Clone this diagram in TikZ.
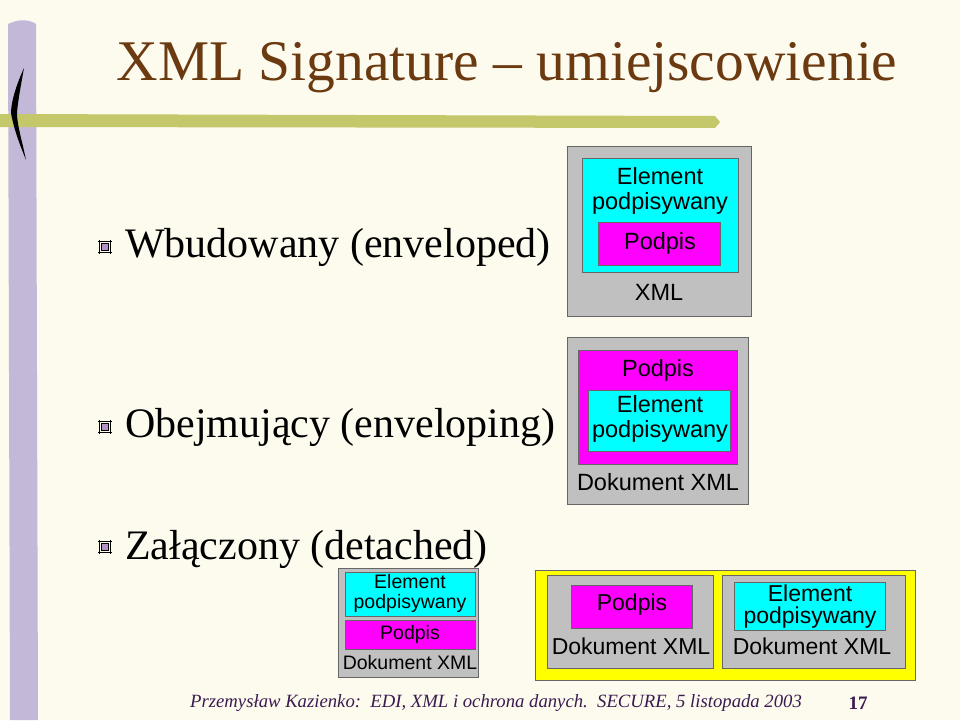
\documentclass[tikz,border=0pt]{standalone}
\usepackage{fontspec}
\setmainfont{Liberation Serif}
\setsansfont{Liberation Sans}
\usetikzlibrary{positioning}
\definecolor{bgcream}{HTML}{FDFBEE}
\definecolor{titlebrown}{HTML}{6B3A10}
\definecolor{barolive}{HTML}{C5C86A}
\definecolor{barlilac}{HTML}{C4B8D8}
\definecolor{boxgray}{HTML}{C0C0C0}
\definecolor{elemcyan}{HTML}{00FFFF}
\definecolor{sigmagenta}{HTML}{FF00FF}
\definecolor{wrapyellow}{HTML}{FFFF00}
\definecolor{footpurple}{HTML}{3A1A50}
\tikzset{
  docbox/.style={draw=black!60,fill=boxgray,line width=0.8pt},
  elembox/.style={draw=black!60,fill=elemcyan,line width=0.8pt},
  sigbox/.style={draw=black!60,fill=sigmagenta,line width=0.8pt},
  wrapbox/.style={draw=black!60,fill=wrapyellow,line width=0.8pt},
  boxtext/.style={font=\sffamily,align=center,inner sep=0pt},
  itemtext/.style={anchor=west,font=\fontsize{42}{44}\selectfont,inner sep=0pt},
  bulletmark/.style={draw=black,fill=barlilac!80!violet,minimum size=7pt,inner sep=0pt}
}
\newcommand{\itembullet}[2]{%
  \node[bulletmark] (#1) at #2 {};
  \draw[line width=1pt] ([xshift=-3pt,yshift=2pt]#1.north west) -- ([xshift=3pt,yshift=2pt]#1.north east);
  \draw[line width=1pt] ([xshift=-3pt,yshift=-2pt]#1.south west) -- ([xshift=3pt,yshift=-2pt]#1.south east);
  \draw[line width=1pt] ([xshift=2pt,yshift=3pt]#1.north east) -- ([xshift=2pt,yshift=-3pt]#1.south east);
  \draw[line width=1pt] ([xshift=-2pt,yshift=3pt]#1.north west) -- ([xshift=-2pt,yshift=-3pt]#1.south west);
}
\begin{document}
\begin{tikzpicture}[x=1pt,y=-1pt]
\fill[bgcream] (0,0) rectangle (960,720);
\useasboundingbox (0,0) rectangle (960,720);

%% decoration
\fill[barlilac] (8,24) .. controls (20,18) and (30,20) .. (36,24) -- (38,720) -- (10,720) -- cycle;
\fill[barolive] (0,114) -- (715,116) -- (720,122) -- (715,128) -- (0,127) -- cycle;
\fill[black] (24,68) .. controls (14,90) and (11,105) .. (11,113)
  .. controls (14,130) and (20,145) .. (26,160)
  .. controls (22,140) and (17,125) .. (17,113)
  .. controls (18,100) and (21,85) .. (24,68) -- cycle;

%% title
\node[font=\fontsize{57.5}{60}\selectfont,text=titlebrown,inner sep=0pt] (title) at (507,68) {XML Signature -- umiejscowienie};

%% items
\itembullet{b1}{(105,247)}
\node[itemtext] (t1) at (125,247) {Wbudowany (enveloped)};
\itembullet{b2}{(105,427)}
\node[itemtext] (t2) at (125,427) {Obejmujący (enveloping)};
\itembullet{b3}{(105,547)}
\node[itemtext] (t3) at (125,549) {Załączony (detached)};

%% enveloped
\draw[docbox] (567,146) rectangle (751,316);
\draw[elembox] (582,158) rectangle (738,272);
\draw[sigbox] (598,222) rectangle (720,265);
\node[boxtext,font=\sffamily\fontsize{23.5}{25}\selectfont] (e1) at (660,191) {Element\\podpisywany};
\node[boxtext,font=\sffamily\fontsize{23.5}{25}\selectfont] (e2) at (660,243) {Podpis};
\node[boxtext,font=\sffamily\fontsize{23.5}{25}\selectfont] (e3) at (659,292) {XML};

%% enveloping
\draw[docbox] (567,337) rectangle (748,504);
\draw[sigbox] (578,350) rectangle (737,464);
\draw[elembox] (588,390) rectangle (730,451);
\node[boxtext,font=\sffamily\fontsize{23.5}{25}\selectfont] (n1) at (658,370) {Podpis};
\node[boxtext,font=\sffamily\fontsize{23.5}{25}\selectfont] (n2) at (660,419) {Element\\podpisywany};
\node[boxtext,font=\sffamily\fontsize{23.5}{25}\selectfont] (n3) at (658,482) {Dokument XML};

%% detached
\draw[docbox] (338,568) rectangle (478,677);
\draw[elembox] (345,572) rectangle (475,616);
\draw[sigbox] (345,620) rectangle (475,649);
\node[boxtext,font=\sffamily\fontsize{19.5}{20}\selectfont] (d1) at (410,593) {Element\\podpisywany};
\node[boxtext,font=\sffamily\fontsize{19.5}{20}\selectfont] (d2) at (410,634) {Podpis};
\node[boxtext,font=\sffamily\fontsize{19.5}{20}\selectfont] (d3) at (410,663) {Dokument XML};

\draw[wrapbox] (535,570) rectangle (915,680);
\draw[docbox] (547,575) rectangle (713,668);
\draw[docbox] (722,575) rectangle (905,668);
\draw[sigbox] (571,585) rectangle (692,628);
\draw[elembox] (734,582) rectangle (885,630);
\node[boxtext,font=\sffamily\fontsize{23}{22}\selectfont] (w1) at (632,605) {Podpis};
\node[boxtext,font=\sffamily\fontsize{23}{22}\selectfont] (w2) at (631,646) {Dokument XML};
\node[boxtext,font=\sffamily\fontsize{23}{22}\selectfont] (w3) at (810,607) {Element\\podpisywany};
\node[boxtext,font=\sffamily\fontsize{23}{22}\selectfont] (w4) at (812,646) {Dokument XML};

%% footer
\node[font=\itshape\fontsize{18.7}{22}\selectfont,text=footpurple,anchor=west,inner sep=0pt] (foot) at (190,703) {Przemysław Kazienko:\ \ EDI, XML i ochrona danych.\ \ SECURE, 5 listopada 2003};
\node[font=\bfseries\fontsize{19}{22}\selectfont,text=footpurple,inner sep=0pt] (page) at (858,703) {17};
\end{tikzpicture}
\end{document}
